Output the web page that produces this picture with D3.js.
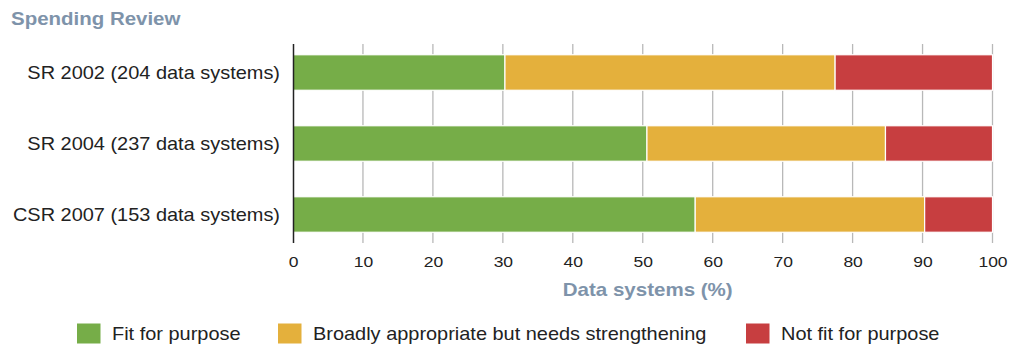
<!DOCTYPE html>
<html><head><meta charset="utf-8">
<script src="https://cdn.jsdelivr.net/npm/d3@7"></script>
<style>body{margin:0;background:#fff;} svg{display:block;font-family:"Liberation Sans",Arial,sans-serif;}</style>
</head><body>
<svg id="c" width="1009" height="347"></svg>
<script>
const categories = ["SR 2002 (204 data systems)", "SR 2004 (237 data systems)", "CSR 2007 (153 data systems)"];
const seriesNames = ["Fit for purpose", "Broadly appropriate but needs strengthening", "Not fit for purpose"];
const fitForPurpose = [30.3, 50.6, 57.5];
const broadlyAppropriate = [47.2, 34.1, 32.8];
const notFit = [22.5, 15.3, 9.7];
const tickValues = [0,10,20,30,40,50,60,70,80,90,100];
const colors = ["#76ad48", "#e4b03c", "#c73e40"];

const svg = d3.select("#c");
const x = d3.scaleLinear().domain([0,100]).range([293,992.5]);
const y = d3.scaleBand().domain(categories).range([37,250]).paddingInner(0.5).paddingOuter(0.25);
const SX = 1.14;

const rows = categories.map((c,i)=>({cat:c, vals:[fitForPurpose[i], broadlyAppropriate[i], notFit[i]]}));
const stack = d3.stack().keys([0,1,2]).value((d,k)=>d.vals[k]);
const layers = stack(rows);

// gridlines
svg.append("g").selectAll("line").data(tickValues.slice(1)).join("line")
  .attr("x1",d=>x(d)).attr("x2",d=>x(d)).attr("y1",44).attr("y2",243)
  .attr("stroke","#b8b8b8").attr("stroke-width",1.3);

// bars
svg.append("g").selectAll("g").data(layers).join("g")
  .attr("fill",(d,i)=>colors[i])
  .selectAll("rect").data(d=>d).join("rect")
  .attr("x",d=>x(d[0])).attr("width",d=>x(d[1])-x(d[0]))
  .attr("y",d=>y(d.data.cat)).attr("height",y.bandwidth())
  .attr("stroke","#fff").attr("stroke-width",1.2);

// y axis line
svg.append("line").attr("x1",293.5).attr("x2",293.5).attr("y1",44).attr("y2",243)
  .attr("stroke","#222").attr("stroke-width",1.5);

// category labels
svg.append("g").selectAll("text").data(categories).join("text")
  .attr("transform",d=>`translate(280,${y(d)+y.bandwidth()/2}) scale(${SX},1)`)
  .attr("dy","0.35em")
  .attr("text-anchor","end").attr("font-size",17.5).attr("fill","#222").text(d=>d);

// x tick labels
const xAxis = d3.axisBottom(x).tickValues(tickValues).tickSize(0).tickPadding(0);
const gx = svg.append("g").attr("transform","translate(0,267)").call(xAxis);
gx.select(".domain").remove();
gx.selectAll("text").attr("dy",0).attr("y",0).attr("transform","scale(1.25,1)")
  .attr("font-size",14).attr("fill","#222").attr("font-family","Liberation Sans, Arial, sans-serif");

// axis title
svg.append("text").attr("transform",`translate(${x(50)+5},296) scale(${SX},1)`).attr("text-anchor","middle")
  .attr("font-size",18).attr("font-weight","bold").attr("fill","#7e93aa").text("Data systems (%)");

// title
svg.append("text").attr("transform",`translate(11,25) scale(1.17,1)`).attr("font-size",17.5)
  .attr("font-weight","bold").attr("fill","#7e93aa").text("Spending Review");

// legend
const legendX = [77, 278, 746];
const lg = svg.append("g").selectAll("g").data(seriesNames).join("g")
  .attr("transform",(d,i)=>`translate(${legendX[i]},323.5)`);
lg.append("rect").attr("width",23.5).attr("height",20).attr("fill",(d,i)=>colors[i]);
lg.append("text").attr("transform",`translate(35,16.5) scale(${SX},1)`)
  .attr("font-size",17.5).attr("fill","#222").text(d=>d);
</script>
</body></html>
